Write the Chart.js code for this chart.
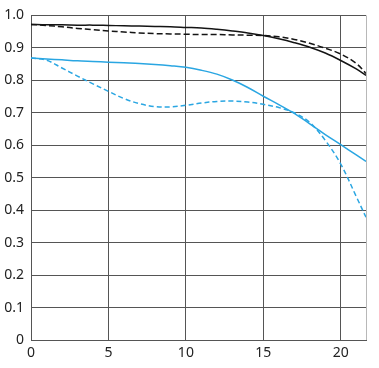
<!DOCTYPE html>
<html>
<head>
<meta charset="utf-8">
<script src="https://cdn.jsdelivr.net/npm/chart.js@4"></script>
<style>
html,body{margin:0;padding:0;background:#fff;}
#wrap{width:379px;height:368px;}
</style>
</head>
<body>
<div id="wrap"><canvas id="c" width="379" height="368"></canvas></div>
<script>
const positions = [0,1,2,3,4,5,6,7,8,9,10,11,12,13,14,15,16,17,18,19,20,21,21.63];
const blackSolid = [.972,.971,.971,.970,.970,.969,.968,.967,.966,.965,.963,.961,.957,.952,.946,.938,.928,.916,.902,.884,.861,.835,.815];
const blackDashed = [.972,.969,.965,.960,.956,.952,.949,.946,.944,.943,.942,.941,.941,.940,.939,.938,.934,.926,.914,.899,.881,.852,.821];
const blueSolid = [.869,.866,.863,.860,.858,.856,.854,.852,.849,.845,.840,.831,.819,.801,.778,.751,.725,.698,.666,.633,.602,.570,.550];
const blueDashed = [.869,.862,.838,.813,.789,.766,.744,.728,.719,.718,.723,.730,.735,.736,.733,.726,.716,.700,.670,.615,.542,.442,.378];
const xTicks = [0,5,10,15,20];
const xMax = 21.63;
const yTicks = [0,0.1,0.2,0.3,0.4,0.5,0.6,0.7,0.8,0.9,1.0];

const pts = arr => arr.map((v,i)=>({x:positions[i], y:v}));
const BLUE = '#2aa6e2';
const BLACK = '#141414';

function ds(data, color, dash){
  return {data: pts(data), borderColor: color, borderWidth: 1.5, borderDash: dash,
    pointRadius: 0, fill: false, tension: 0.35};
}

new Chart(document.getElementById('c'), {
  type: 'line',
  data: {datasets: [
    ds(blackSolid, BLACK, []),
    ds(blackDashed, BLACK, [6,3]),
    ds(blueSolid, BLUE, []),
    ds(blueDashed, BLUE, [5,3])
  ]},
  options: {
    responsive: false, animation: false, devicePixelRatio: 1,
    layout: {padding: {top: 13, right: 13, left: 0, bottom: 0}},
    plugins: {legend: {display: false}, tooltip: {enabled: false}},
    scales: {
      x: {
        type: 'linear', min: 0, max: xMax,
        afterBuildTicks: s => { s.ticks = xTicks.concat([xMax]).map(v=>({value:v})); },
        afterFit: s => { s.height = 28; },
        grid: {drawTicks: false, lineWidth: 1,
          color: c => (c.tick && c.tick.value === xMax) ? '#b8b8b8' : '#555'},
        border: {color: '#555', width: 1},
        ticks: {padding: 5, color: '#222', font: {family: 'Noto Sans', size: 14},
          maxRotation: 0, autoSkip: false,
          callback: v => xTicks.includes(v) ? String(v) : ''}
      },
      y: {
        type: 'linear', min: 0, max: 1,
        afterBuildTicks: s => { s.ticks = yTicks.map(v=>({value:v})); },
        afterFit: s => { s.width = 31; },
        grid: {drawTicks: false, lineWidth: 1, color: '#555'},
        border: {color: '#555', width: 1},
        ticks: {padding: 7, color: '#222', font: {family: 'Noto Sans', size: 14},
          autoSkip: false,
          callback: v => v === 0 ? '0' : Number(v).toFixed(1)}
      }
    }
  }
});
</script>
</body>
</html>
